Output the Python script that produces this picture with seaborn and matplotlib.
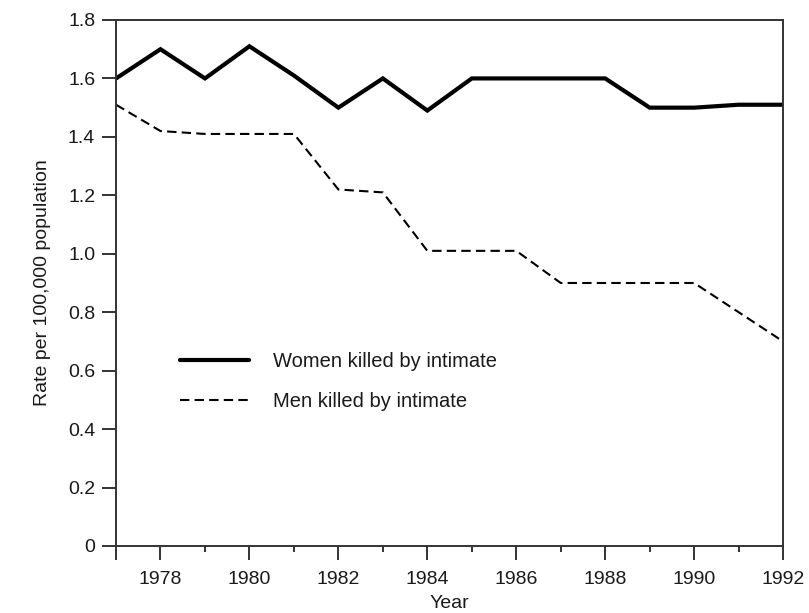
import matplotlib
matplotlib.use("Agg")
import matplotlib.pyplot as plt
import seaborn as sns
import pandas as pd
from matplotlib.ticker import FixedLocator
from matplotlib.lines import Line2D

years = list(range(1977, 1993))
women = [1.60, 1.70, 1.60, 1.71, 1.61, 1.50, 1.60, 1.49, 1.60, 1.60, 1.60, 1.60, 1.50, 1.50, 1.51, 1.51]
men = [1.51, 1.42, 1.41, 1.41, 1.41, 1.22, 1.21, 1.01, 1.01, 1.01, 0.90, 0.90, 0.90, 0.90, 0.80, 0.70]
series_names = ["Women killed by intimate", "Men killed by intimate"]
y_ticks = [0, 0.2, 0.4, 0.6, 0.8, 1.0, 1.2, 1.4, 1.6, 1.8]
y_tick_labels = ["0", "0.2", "0.4", "0.6", "0.8", "1.0", "1.2", "1.4", "1.6", "1.8"]
x_major = [1978, 1980, 1982, 1984, 1986, 1988, 1990, 1992]
x_minor = [1979, 1981, 1983, 1985, 1987, 1989, 1991]

df = pd.DataFrame({
    "Year": years * 2,
    "Rate": women + men,
    "Series": [series_names[0]] * len(years) + [series_names[1]] * len(years),
})

sns.set_style("ticks")
plt.rcParams["font.family"] = ["Liberation Sans", "DejaVu Sans"]

fig = plt.figure(figsize=(8.09, 6.13), dpi=100)
ax = fig.add_axes([0.1434, 0.1093, 0.8246, 0.8581])

dash = (4.5, 2.5)
sns.lineplot(data=df, x="Year", y="Rate", hue="Series", style="Series",
             palette=["black", "black"], dashes=[(None, None), dash],
             ax=ax, legend=False)
for line, lw in zip(ax.get_lines(), [3.0, 1.5]):
    line.set_linewidth(lw)
    line.set_solid_joinstyle("miter")

ax.set_xlim(1977, 1992)
ax.set_ylim(0, 1.8)
ax.set_yticks(y_ticks)
ax.set_yticklabels(y_tick_labels)
ax.xaxis.set_major_locator(FixedLocator([1977] + x_major))
ax.set_xticklabels([""] + [str(y) for y in x_major])
ax.xaxis.set_minor_locator(FixedLocator(x_minor))

for s in ax.spines.values():
    s.set_color("#333333")
    s.set_linewidth(1.4)
ax.tick_params(axis="both", which="major", length=10, width=1.4, color="#333333",
               labelsize=14, labelcolor="#1a1a1a")
ax.tick_params(axis="y", which="major", pad=5)
ax.tick_params(axis="x", which="major", pad=8)
ax.tick_params(axis="x", which="minor", length=4.5, width=1.4, color="#333333")

ax.set_xlabel("Year", fontsize=14, color="#1a1a1a", labelpad=5)
ax.set_ylabel("Rate per 100,000 population", fontsize=14, color="#1a1a1a", labelpad=12)

handles = [Line2D([], [], color="black", lw=3.0),
           Line2D([], [], color="black", lw=1.5, dashes=dash)]
ax.legend(handles, series_names, loc="upper left", bbox_to_anchor=(0.096, 0.368),
          frameon=False, fontsize=14.5, handlelength=3.4, handletextpad=1.2,
          labelspacing=1.0, labelcolor="#1a1a1a", borderpad=0, borderaxespad=0)

fig.savefig("out.png", dpi=100)
